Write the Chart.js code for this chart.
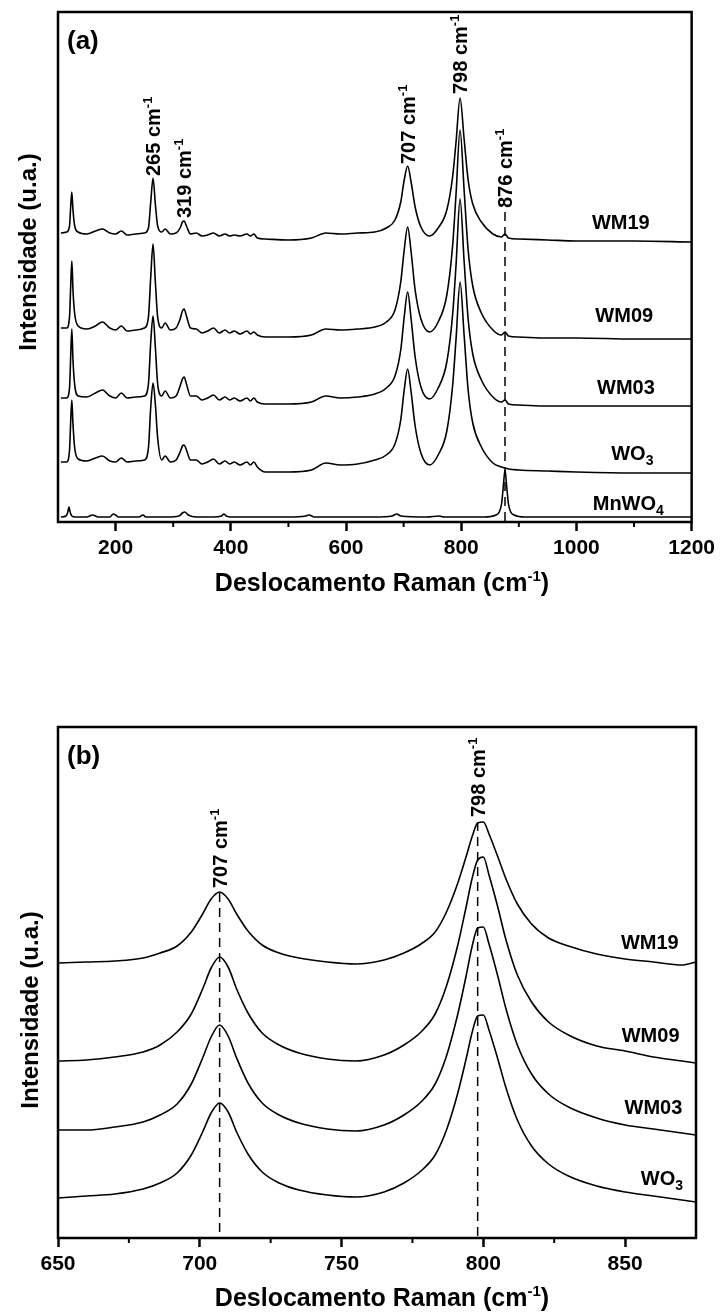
<!DOCTYPE html>
<html>
<head>
<meta charset="utf-8">
<script src="https://cdn.jsdelivr.net/npm/chart.js@4.4.1/dist/chart.umd.min.js"></script>
<style>
  html, body { margin: 0; padding: 0; background: #fff; }
  canvas { display: block; }
</style>
</head>
<body>
<canvas id="chart-a" width="720" height="640"></canvas>
<canvas id="chart-b" width="720" height="673"></canvas>
<script>
// --- Panel (a): full spectra, offset by hand as in the figure ---
const shiftA = [105, 115, 120, 122, 124, 126, 129, 135, 150, 165, 177, 190, 200, 210, 220, 235, 250,
  257, 261, 265, 269, 273, 280, 286, 295, 305, 312, 316, 319, 323, 330, 340, 350, 360, 370, 380, 390,
  398, 406, 416, 428, 434, 440, 446, 460, 500, 540, 565, 590, 620, 650, 670, 685, 695, 701, 707, 713,
  720, 730, 745, 760, 775, 785, 791, 798, 805, 812, 820, 835, 855, 870, 876, 882, 900, 950, 1000, 1100, 1200];

const wm19A = [289, 290, 296, 315, 330, 312, 296, 290,
  288, 291, 293, 289, 288, 291, 287, 288, 289,
  294, 320, 344, 318, 296,
  290, 293, 288, 289, 294, 300, 301, 296, 288,
  289, 286, 287, 289, 286, 288, 286, 287, 286, 288, 286, 288, 284,
  283, 282, 284, 289, 288, 289,
  290, 294, 302, 320, 342, 356, 340, 315, 295, 286,
  294, 312, 345, 380, 424, 383, 342, 318, 300, 288, 285,
  288, 284, 283, 282, 281, 281, 280];

const wm09A = [194, 194, 205, 235, 261, 232, 208, 196,
  193, 196, 200, 194, 192, 196, 191, 192, 194,
  205, 245, 278, 240, 205,
  194, 199, 192, 194, 203, 211, 213, 206, 194,
  193, 189, 191, 194, 189, 192, 189, 191, 188, 191, 188, 190, 187,
  185, 185, 187, 193, 192, 193,
  195, 200, 212, 240, 272, 295, 270, 232, 203, 190,
  200, 227, 276, 328, 392, 332, 272, 236, 209, 192, 187,
  190, 186, 185, 184, 184, 183, 183];

const wm03A = [124, 124, 134, 165, 193, 162, 137, 126,
  125, 129, 132, 126, 124, 129, 124, 125, 126,
  138, 180, 206, 175, 138,
  126, 131, 124, 126, 136, 143, 145, 138, 126,
  126, 122, 124, 127, 122, 125, 122, 124, 121, 124, 121, 124, 120,
  118, 118, 120, 126, 124, 125,
  128, 134, 146, 172, 205, 230, 203, 165, 135, 123,
  134, 160, 207, 257, 323, 261, 203, 168, 142, 125, 120,
  122, 118, 117, 116, 116, 116, 116];

const wo3A = [60, 60, 72, 100, 122, 98, 74, 63,
  61, 64, 66, 61, 60, 64, 60, 61, 62,
  74, 115, 139, 118, 84,
  62, 66, 60, 62, 70, 76, 77, 72, 62,
  62, 58, 60, 63, 58, 61, 58, 60, 57, 60, 57, 60, 55,
  50, 50, 52, 59, 57, 58,
  62, 67, 78, 102, 132, 153, 130, 96, 69, 57,
  67, 91, 136, 183, 240, 187, 132, 99, 75, 59, 55,
  54, 53, 52, 51, 50, 49, 49];

const shiftMn = [105, 114, 117, 119, 121, 124, 130, 150, 160, 170, 190, 196, 200, 205, 215, 240, 248,
  252, 260, 290, 310, 316, 320, 326, 340, 370, 384, 388, 392, 400, 450, 500, 530, 536, 545, 600, 650,
  680, 688, 695, 740, 762, 770, 800, 840, 860, 866, 870, 873, 876, 879, 882, 886, 892, 910, 1000, 1100, 1200];
const mnwo4A = [5, 6, 10, 15, 10, 6, 5, 5, 7, 5, 5, 8, 7, 5, 5, 5, 7,
  5, 5, 5, 6, 9, 10, 7, 5, 5, 6, 8, 6, 5, 5, 5, 6, 7, 5, 5, 5,
  6, 8, 6, 5, 6, 5, 5, 5, 7, 10, 18, 35, 52, 35, 18, 10, 7, 5, 5, 5, 5];

const namesA = ['WM19', 'WM09', 'WM03', 'WO3', 'MnWO4'];
const nameXA = [1077, 1083, 1086, 1097, 1090];
const nameYA = [300, 207, 135, 69, 19];
const majorA = [200, 400, 600, 800, 1000, 1200];
const minorA = [300, 500, 700, 900, 1100];
const peakShiftA = [265, 319, 707, 798, 876];
const peakTextYA = [346, 304, 358, 428, 314];
const dashShiftA = [876];
const dashTopA = [310];

// --- Panel (b): zoom on the two W-O bands ---
const shiftB = [650, 660, 670, 680, 686, 692, 697, 701, 704, 707, 710, 713, 717, 722, 728, 735, 745, 755, 765, 772,
  778, 783, 787, 791, 794, 796, 798, 800, 802, 805, 808, 812, 817, 823, 830, 840, 850, 860, 870, 875];
const wm19B = [275, 276, 277, 280, 285, 292, 306, 324, 339, 346, 339, 324, 307, 293, 285, 280, 276, 274, 278, 285,
  294, 306, 326, 355, 382, 401, 415, 416, 404, 382, 359, 334, 314, 300, 292, 284, 279, 276, 273, 276];
const wm09B = [177, 178, 181, 186, 193, 206, 224, 249, 270, 281, 271, 249, 225, 205, 193, 185, 179, 177, 183, 193,
  206, 224, 252, 293, 332, 359, 378, 381, 363, 332, 298, 263, 236, 216, 203, 192, 187, 181, 177, 175];
const wm03B = [108, 108, 111, 116, 123, 134, 154, 180, 201, 213, 202, 180, 155, 135, 123, 115, 109, 107, 113, 123,
  136, 154, 182, 224, 263, 291, 310, 311, 294, 263, 229, 193, 164, 144, 131, 120, 113, 109, 105, 103];
const wo3B = [40, 42, 44, 49, 55, 65, 83, 106, 125, 135, 126, 106, 84, 66, 55, 48, 43, 41, 46, 55,
  67, 83, 108, 145, 180, 205, 222, 223, 208, 180, 150, 118, 92, 74, 62, 52, 46, 42, 38, 36];

const namesB = ['WM19', 'WM09', 'WM03', 'WO3'];
const nameXB = [858.7, 859, 860, 863];
const nameYB = [296, 203, 131, 60];
const majorB = [650, 700, 750, 800, 850];
const minorB = [675, 725, 775, 825];
const peakShiftB = [707, 798];
const peakTextYB = [350, 421];
const dashShiftB = [707, 798];
const dashTopB = [345, 416];

const FONT = '"Liberation Sans", Arial, sans-serif';

// draws text pieces [text, size, dy] one after the other, baseline at y
function drawRich(ctx, parts, x, y, align) {
    let w = 0;
    parts.forEach(p => { ctx.font = `bold ${p[1]}px ${FONT}`; w += ctx.measureText(p[0]).width; });
    let cx = align === 'center' ? x - w / 2 : x;
    ctx.textAlign = 'left';
    ctx.textBaseline = 'alphabetic';
    parts.forEach(p => {
        ctx.font = `bold ${p[1]}px ${FONT}`;
        ctx.fillText(p[0], cx, y + p[2]);
        cx += ctx.measureText(p[0]).width;
    });
}

function nameParts(name) {
    const m = name.match(/^(.*O)(\d)$/);
    if (m) return [[m[1], 20, 0], [m[2], 14, 5]];
    return [[name, 20, 0]];
}

const decor = {
    id: 'decor',
    afterDraw(chart, args, o) {
        const ctx = chart.ctx;
        const xs = chart.scales.x, ys = chart.scales.y;
        const a = chart.chartArea;
        ctx.save();
        ctx.fillStyle = '#000';
        ctx.strokeStyle = '#000';

        // frame
        ctx.lineWidth = 2.5;
        ctx.strokeRect(a.left, a.top, a.right - a.left, a.bottom - a.top);

        // minor ticks
        ctx.lineWidth = 2;
        o.minor.forEach(v => {
            const px = xs.getPixelForValue(v);
            ctx.beginPath();
            ctx.moveTo(px, a.bottom);
            ctx.lineTo(px, a.bottom + 5);
            ctx.stroke();
        });

        // dashed guide lines
        ctx.lineWidth = 1.5;
        ctx.setLineDash([9, 6]);
        o.dashX.forEach((v, i) => {
            const px = xs.getPixelForValue(v);
            ctx.beginPath();
            ctx.moveTo(px, ys.getPixelForValue(o.dashTop[i]));
            ctx.lineTo(px, a.bottom);
            ctx.stroke();
        });
        ctx.setLineDash([]);

        // peak labels, rotated
        o.peakX.forEach((v, i) => {
            ctx.save();
            ctx.translate(xs.getPixelForValue(v), ys.getPixelForValue(o.peakY[i]));
            ctx.rotate(-Math.PI / 2);
            drawRich(ctx, [[v + ' cm', 20, 0], ['-1', 13, -8]], 0, 7, 'left');
            ctx.restore();
        });

        // series names
        o.names.forEach((n, i) => {
            drawRich(ctx, nameParts(n), xs.getPixelForValue(o.nameX[i]), ys.getPixelForValue(o.nameY[i]) + 7, 'center');
        });

        // panel letter
        drawRich(ctx, [[o.letter, 26, 0]], a.left + 9, o.letterY + 9, 'left');

        // axis titles
        drawRich(ctx, [['Deslocamento Raman (cm', 25, 0], ['-1', 15, -10], [')', 25, 0]], 382, o.xTitleY + 9, 'center');
        ctx.save();
        ctx.translate(o.yTitleX, o.yTitleY);
        ctx.rotate(-Math.PI / 2);
        drawRich(ctx, [['Intensidade (u.a.)', 24, 0]], 0, 9, 'center');
        ctx.restore();

        ctx.restore();
    }
};

const makeSet = (xs, ys) => ({
    data: xs.map((x, i) => ({ x: x, y: ys[i] })),
    borderColor: '#000',
    borderWidth: 1.6,
    pointRadius: 0,
    fill: false,
    cubicInterpolationMode: 'monotone'
});

const initPanel = (id, sets, p) => {
    return new Chart(document.getElementById(id), {
        type: 'line',
        data: { datasets: sets },
        options: {
            responsive: false,
            animation: false,
            layout: { padding: { left: 58, right: 24, top: p.top, bottom: 0 } },
            plugins: { legend: { display: false }, tooltip: { enabled: false }, decor: p.decor },
            scales: {
                x: {
                    type: 'linear',
                    min: p.min,
                    max: p.max,
                    afterBuildTicks: s => { s.ticks = p.major.map(v => ({ value: v })); },
                    afterFit: s => { s.height = p.axisH; },
                    border: { display: false },
                    grid: { display: true, drawOnChartArea: false, drawTicks: true, tickLength: 9, tickWidth: 2.5, tickColor: '#000' },
                    ticks: {
                        color: '#000', padding: 5, autoSkip: false, maxRotation: 0,
                        font: { family: FONT, size: 21, weight: 'bold' },
                        callback: v => String(v)
                    }
                },
                y: { display: false, min: 0, max: p.ymax }
            }
        },
        plugins: [decor]
    });
};

initPanel('chart-a', [
    makeSet(shiftA, wm19A), makeSet(shiftA, wm09A), makeSet(shiftA, wm03A),
    makeSet(shiftA, wo3A), makeSet(shiftMn, mnwo4A)
], {
    top: 12, axisH: 118, min: 100, max: 1200, ymax: 510, major: majorA,
    decor: {
        minor: minorA, dashX: dashShiftA, dashTop: dashTopA, peakX: peakShiftA, peakY: peakTextYA,
        names: namesA, nameX: nameXA, nameY: nameYA, letter: '(a)', letterY: 40,
        xTitleY: 582, yTitleX: 27, yTitleY: 252
    }
});

initPanel('chart-b', [
    makeSet(shiftB, wm19B), makeSet(shiftB, wm09B), makeSet(shiftB, wm03B), makeSet(shiftB, wo3B)
], {
    top: 87, axisH: 75, min: 650, max: 875, ymax: 511, major: majorB,
    decor: {
        minor: minorB, dashX: dashShiftB, dashTop: dashTopB, peakX: peakShiftB, peakY: peakTextYB,
        names: namesB, nameX: nameXB, nameY: nameYB, letter: '(b)', letterY: 115,
        xTitleY: 657, yTitleX: 29, yTitleY: 370
    }
});
</script>
</body>
</html>
